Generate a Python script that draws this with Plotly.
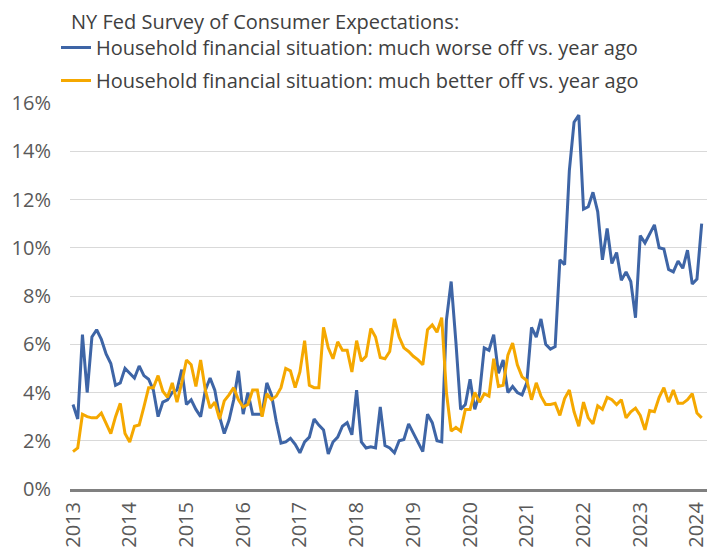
import plotly.graph_objects as go

# Monthly survey readings (%), first point = start of series (labelled 2013)
worse_off = [
    3.5, 2.9, 6.4, 4.0, 6.3, 6.6, 6.2, 5.6, 5.2, 4.3,
    4.4, 5.0, 4.8, 4.6, 5.1, 4.7, 4.55, 4.1, 3.0, 3.6,
    3.7, 4.0, 4.1, 4.95, 3.5, 3.7, 3.3, 3.0, 4.1, 4.6,
    4.1, 3.0, 2.3, 2.85, 3.7, 4.9, 3.1, 4.0, 3.1, 3.1,
    3.1, 4.4, 3.9, 2.8,
    1.9, 1.95, 2.1, 1.85, 1.5, 1.95, 2.15, 2.9, 2.65, 2.45,
    1.45, 1.95, 2.15, 2.6, 2.75, 2.25, 4.1, 1.95, 1.7, 1.75,
    1.7, 3.4,
    1.8, 1.7, 1.5, 2.0, 2.05, 2.7, 2.3, 1.95, 1.55, 3.1,
    2.75, 2.0, 1.95, 7.0, 8.6, 6.1, 3.3, 3.5, 4.55, 3.3,
    3.95, 5.85,
    5.75, 6.4, 4.8, 5.35, 4.0, 4.25, 4.0, 3.9, 4.4, 6.7,
    6.3, 7.05, 6.0, 5.8, 5.9, 9.5, 9.3, 13.2, 15.2, 15.5,
    11.6, 11.7, 12.3, 11.5, 9.5, 10.8, 9.35, 9.8, 8.65, 9.0,
    8.6, 7.1, 10.5, 10.2, 10.6, 10.95, 10.0, 9.95, 9.1, 9.0,
    9.45, 9.15, 9.9, 8.5, 8.7, 11.0,
]

better_off = [
    1.55, 1.7, 3.1, 3.0, 2.95, 2.95, 3.15, 2.7, 2.3, 3.0,
    3.55, 2.3, 1.95, 2.6, 2.65, 3.4, 4.2, 4.2, 4.7, 4.05,
    3.8, 4.4, 3.6, 4.4, 5.35, 5.15, 4.25, 5.35, 4.1, 3.35,
    3.6, 2.9, 3.65, 3.9, 4.2, 3.7, 3.4, 3.5, 4.1, 4.1,
    3.0, 3.95, 3.7, 3.85,
    4.2, 5.0, 4.9, 4.2, 4.85, 6.15, 4.3, 4.2, 4.2, 6.7,
    5.85, 5.4, 6.1, 5.75, 5.75, 4.85, 6.15, 5.3, 5.5, 6.65,
    6.3, 5.45, 5.4,
    5.7, 7.05, 6.3, 5.85, 5.7, 5.5, 5.35, 5.15, 6.6, 6.8,
    6.5, 7.1, 4.0, 2.4, 2.55, 2.4, 3.3, 3.3, 4.0, 3.6,
    3.95, 3.85, 5.4, 4.25, 4.3, 5.55, 6.05, 5.15, 4.65, 4.5,
    3.7, 4.4, 3.85, 3.5, 3.5, 3.55, 3.05, 3.75, 4.1, 3.2,
    2.6, 3.6, 2.95, 2.7, 3.45,
    3.3, 3.8, 3.7, 3.5, 3.7, 2.95, 3.2, 3.35, 3.05, 2.45,
    3.25, 3.2, 3.8, 4.2, 3.6, 4.1, 3.55, 3.55, 3.7, 3.95,
    3.15, 2.95,
]

year_labels = ["2013", "2014", "2015", "2016", "2017", "2018",
               "2019", "2020", "2021", "2022", "2023", "2024"]
y_ticks = [0, 2, 4, 6, 8, 10, 12, 14, 16]

months = list(range(len(worse_off)))
tick_pos = [12 * k for k in range(len(year_labels))]

BLUE = "#3e65a6"
GOLD = "#f5a800"
FONT = "Open Sans"
TXT = "#404040"

fig = go.Figure()
fig.add_trace(go.Scatter(
    x=months, y=worse_off, mode="lines",
    name="Household financial situation: much worse off vs. year ago",
    line=dict(color=BLUE, width=3), legendgroup="a"))
fig.add_trace(go.Scatter(
    x=months, y=better_off, mode="lines",
    name="Household financial situation: much better off vs. year ago",
    line=dict(color=GOLD, width=3), legendgroup="b"))

fig.update_layout(
    template="none",
    width=720, height=554,
    margin=dict(l=70, r=13, t=103, b=65, autoexpand=False),
    paper_bgcolor="white", plot_bgcolor="white",
    font=dict(family=FONT, size=20, color=TXT),
    title=dict(text="NY Fed Survey of Consumer Expectations:",
               x=71 / 720, xanchor="left", xref="container",
               y=1 - 22 / 554, yanchor="middle", yref="container",
               font=dict(family=FONT, size=20, color=TXT)),
    showlegend=True,
    legend=dict(x=56 / 720, xanchor="left", xref="container",
                y=1 - 28 / 554, yanchor="top", yref="container",
                bgcolor="rgba(0,0,0,0)",
                font=dict(family=FONT, size=20, color=TXT),
                tracegroupgap=4, traceorder="grouped"),
    xaxis=dict(
        range=[-3 / 4.727, 634 / 4.727], automargin=False,
        tickmode="array", tickvals=tick_pos, ticktext=year_labels,
        tickangle=-90, showgrid=False, zeroline=False,
        showline=True, linecolor="#808080", linewidth=3,
        ticks="outside", ticklen=2, tickcolor="rgba(0,0,0,0)",
        tickfont=dict(family=FONT, size=20, color="#595959"),
    ),
    yaxis=dict(
        range=[0, 16], automargin=False, tickmode="array", tickvals=y_ticks,
        ticktext=[f"{v}%" for v in y_ticks],
        showgrid=True, gridcolor="#d9d9d9", gridwidth=1,
        zeroline=False, showline=False,
        ticks="outside", ticklen=14, tickcolor="rgba(0,0,0,0)",
        tickfont=dict(family=FONT, size=20, color="#595959"),
    ),
)

fig.write_html("out.html", config={"displayModeBar": False},
               post_script="document.body.style.margin='0';")
